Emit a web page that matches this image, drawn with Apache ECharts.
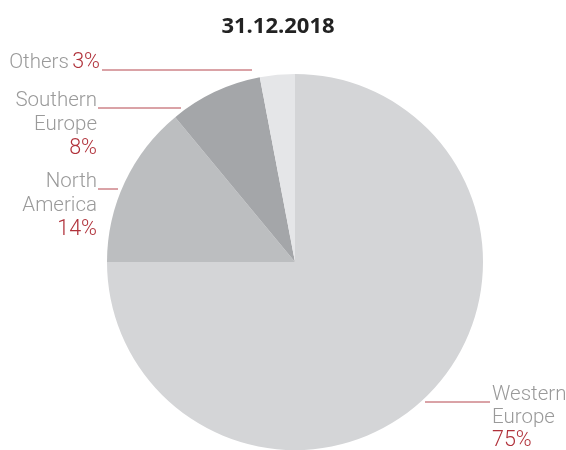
<!DOCTYPE html>
<html>
<head>
<meta charset="utf-8">
<script src="https://cdn.jsdelivr.net/npm/echarts@6/dist/echarts.min.js"></script>
<style>
html,body{margin:0;padding:0;background:#fff;}
#chart{width:566px;height:450px;}
</style>
</head>
<body>
<div id="chart"></div>
<script>
// Data
const title = '31.12.2018';
const categories = ['Western\nEurope', 'North\nAmerica', 'Southern\nEurope', 'Others'];
const values = [75, 14, 8, 3];
const colors = ['#d4d5d7', '#bcbec0', '#a4a6a9', '#e5e6e8'];

// Label placement (annotation layout, not data)
const labelPos = [
  { x: 492, y: 383, lh: 23, align: 'left', line: [[425, 402], [490, 402]] },
  { x: 97, y: 170, lh: 24, align: 'right', line: [[98, 189], [118, 189]] },
  { x: 97, y: 89, lh: 24, align: 'right', line: [[98, 108], [181, 108]] },
  { x: 100, y: 51, lh: 24, align: 'right', line: [[102, 70], [252, 70]], inline: true }
];

const chart = echarts.init(document.getElementById('chart'), null, { renderer: 'canvas' });

const data = categories.map((c, i) => ({
  name: c,
  value: values[i],
  itemStyle: { color: colors[i] },
  label: {
    align: labelPos[i].align,
    rich: {
      n: { fontFamily: 'Roboto', fontWeight: 300, fontSize: 20.5, lineHeight: labelPos[i].lh, color: '#9a9a9a' },
      p: { fontFamily: 'Roboto', fontWeight: 300, fontSize: 21.5, lineHeight: labelPos[i].lh, color: '#b0313a' }
    },
    formatter: function (p) {
      const nm = p.name.split('\n').map(s => '{n|' + s + '}');
      if (labelPos[i].inline) return nm.join(' ') + ' {p|' + p.value + '%}';
      return nm.join('\n') + '\n{p|' + p.value + '%}';
    }
  }
}));

chart.setOption({
  animation: false,
  title: {
    text: title,
    left: 273,
    top: 11,
    textAlign: 'center',
    textStyle: { fontFamily: 'Open Sans', fontWeight: 700, fontSize: 22, color: '#222' }
  },
  series: [{
    type: 'pie',
    center: [295, 262],
    radius: [0, 188],
    startAngle: 90,
    clockwise: true,
    avoidLabelOverlap: false,
    data: data,
    itemStyle: { borderWidth: 0 },
    emphasis: { disabled: true },
    label: {
      show: true,
      position: 'outside',
      verticalAlign: 'top'
    },
    labelLine: {
      show: true,
      length: 10,
      length2: 10,
      lineStyle: { color: '#b5474f', width: 1 }
    },
    labelLayout: function (params) {
      const lp = labelPos[params.dataIndex];
      return {
        x: lp.x,
        y: lp.y,
        align: lp.align,
        verticalAlign: 'top',
        labelLinePoints: [lp.line[0], lp.line[0], lp.line[1]]
      };
    }
  }]
});
</script>
</body>
</html>
